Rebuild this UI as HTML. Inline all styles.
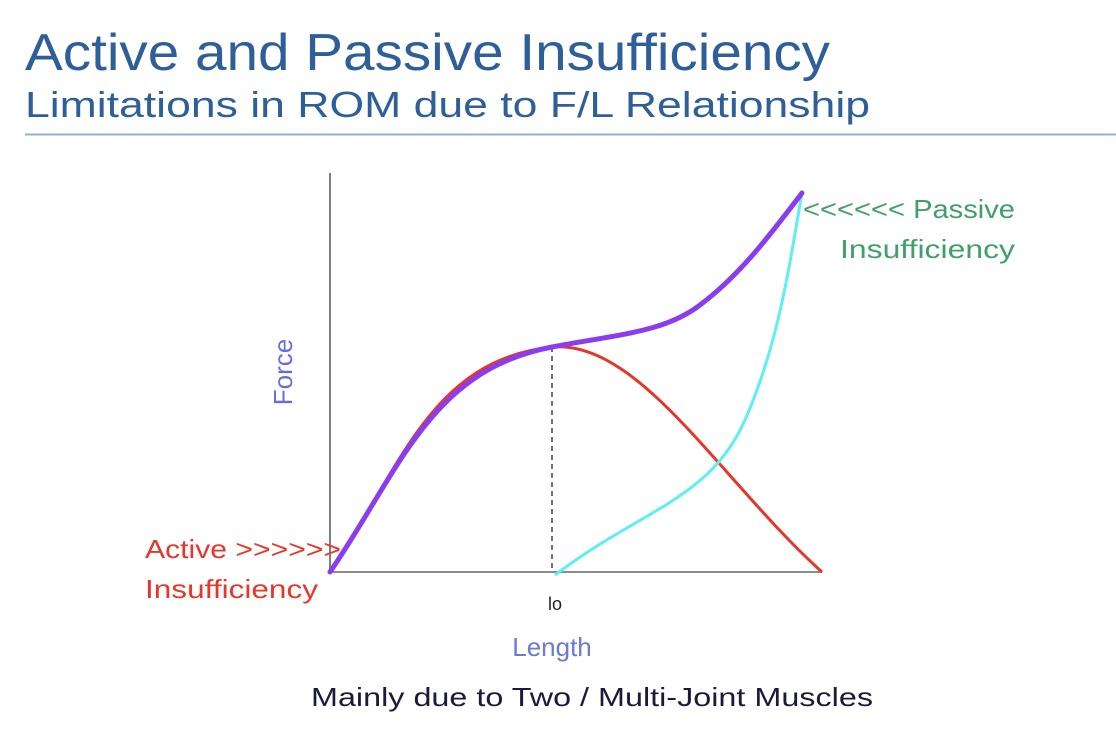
<!DOCTYPE html>
<html><head><style>html,body{margin:0;padding:0;background:#fff}svg{display:block}</style></head>
<body>
<svg width="1116" height="734" viewBox="0 0 1116 734" font-family="'Liberation Sans', sans-serif">
<text x="25" y="70" font-size="52" fill="#2f5f98" textLength="805" lengthAdjust="spacingAndGlyphs">Active and Passive Insufficiency</text>
<text x="25" y="117" font-size="36" fill="#2f5f98" textLength="845" lengthAdjust="spacingAndGlyphs">Limitations in ROM due to F/L Relationship</text>
<line x1="25" y1="134.5" x2="1116" y2="134.5" stroke="#9aa8ec" stroke-width="2"/>
<line x1="330" y1="173" x2="330" y2="572" stroke="#555" stroke-width="1.5"/>
<line x1="330" y1="572" x2="822" y2="572" stroke="#666" stroke-width="1.5"/>
<line x1="552" y1="347" x2="552" y2="572" stroke="#445" stroke-width="1.5" stroke-dasharray="5,4"/>
<path d="M330,572 C400,470 430,360 552,347 C640,340 720,480 822,572" fill="none" stroke="#e8352a" stroke-width="3"/>
<path d="M555,575 C640,510 710,500 745,420 C780,340 790,260 802,193" fill="none" stroke="#5ef0f0" stroke-width="3"/>
<path d="M330,572 C400,470 430,370 552,347 C620,334 665,332 700,305 C740,275 770,235 802,193" fill="none" stroke="#8a3cf0" stroke-width="5" stroke-linecap="round"/>
<text transform="translate(292,372) rotate(-90)" text-anchor="middle" font-size="26" fill="#6a6ae0">Force</text>
<text x="555" y="610" text-anchor="middle" font-size="18" fill="#222">lo</text>
<text x="552" y="656" text-anchor="middle" font-size="26" fill="#6a7ad8">Length</text>
<text x="592" y="706" text-anchor="middle" font-size="26" fill="#1a1a3a" textLength="562" lengthAdjust="spacingAndGlyphs">Mainly due to Two / Multi-Joint Muscles</text>
<text x="145" y="558" font-size="26" fill="#e8362a" textLength="196" lengthAdjust="spacingAndGlyphs">Active &gt;&gt;&gt;&gt;&gt;&gt;</text>
<text x="145" y="598" font-size="26" fill="#e8362a" textLength="173" lengthAdjust="spacingAndGlyphs">Insufficiency</text>
<text x="803" y="218" font-size="26" fill="#3fa06a" textLength="212" lengthAdjust="spacingAndGlyphs">&lt;&lt;&lt;&lt;&lt;&lt; Passive</text>
<text x="840" y="258" font-size="26" fill="#3fa06a" textLength="175" lengthAdjust="spacingAndGlyphs">Insufficiency</text>
</svg>
</body></html>
